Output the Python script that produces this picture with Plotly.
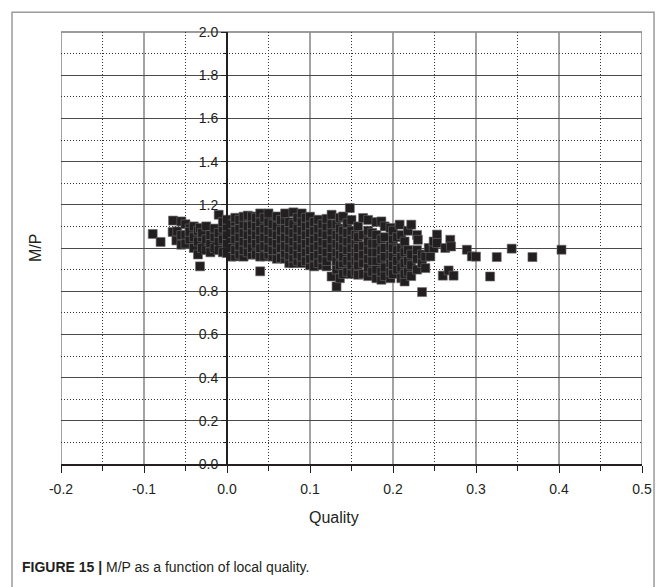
import plotly.graph_objects as go

# ---- data ----
quality = [
    -0.0895, -0.080, -0.065, -0.0655, -0.061, -0.060, -0.055, -0.055, -0.055,
    -0.050, -0.050, -0.050, -0.045, -0.045, -0.045,
    -0.040, -0.040, -0.040, -0.035, -0.035, -0.035,
    -0.0325, -0.0325, -0.030, -0.030, -0.030,
    -0.025, -0.025, -0.025, -0.020, -0.020, -0.020,
    -0.015, -0.015, -0.015, -0.010, -0.010, -0.010, -0.010,
    -0.005, -0.005, -0.005, -0.005,
    0.000, 0.000, 0.000, 0.000, 0.000,
    0.005, 0.005, 0.005, 0.005, 0.005,
    0.010, 0.010, 0.010, 0.010, 0.010, 0.010,
    0.015, 0.015, 0.015, 0.015, 0.015,
    0.020, 0.020, 0.020, 0.020, 0.020, 0.020,
    0.025, 0.025, 0.025, 0.025, 0.025,
    0.030, 0.030, 0.030, 0.030, 0.030, 0.030,
    0.035, 0.035, 0.035, 0.035, 0.035,
    0.040, 0.040, 0.040, 0.040, 0.040, 0.040, 0.040,
    0.045, 0.045, 0.045, 0.045, 0.045,
    0.050, 0.050, 0.050, 0.050, 0.050, 0.050,
    0.055, 0.055, 0.055, 0.055, 0.055,
    0.060, 0.060, 0.060, 0.060, 0.060, 0.060,
    0.065, 0.065, 0.065, 0.065, 0.065,
    0.070, 0.070, 0.070, 0.070, 0.070, 0.070, 0.070,
    0.075, 0.075, 0.075, 0.075, 0.075, 0.075,
    0.080, 0.080, 0.080, 0.080, 0.080, 0.080, 0.080,
    0.085, 0.085, 0.085, 0.085, 0.085, 0.085,
    0.090, 0.090, 0.090, 0.090, 0.090, 0.090, 0.090,
    0.095, 0.095, 0.095, 0.095, 0.095, 0.095,
    0.100, 0.100, 0.100, 0.100, 0.100, 0.100, 0.100,
    0.105, 0.105, 0.105, 0.105, 0.105, 0.105,
    0.110, 0.110, 0.110, 0.110, 0.110, 0.110,
    0.115, 0.115, 0.115, 0.115, 0.115, 0.115,
    0.120, 0.120, 0.120, 0.120, 0.120, 0.120, 0.120,
    0.126, 0.126, 0.126, 0.126, 0.126, 0.126, 0.126,
    0.132, 0.132, 0.132, 0.132, 0.132, 0.132, 0.132,
    0.136, 0.136, 0.136, 0.136, 0.136, 0.136, 0.136,
    0.140, 0.140, 0.140, 0.140, 0.140, 0.140, 0.140,
    0.145, 0.145, 0.145, 0.145, 0.145, 0.145,
    0.148,
    0.150, 0.150, 0.150, 0.150, 0.150, 0.150, 0.150,
    0.155, 0.155, 0.155, 0.155, 0.155,
    0.158, 0.158, 0.158, 0.158, 0.158, 0.158,
    0.164, 0.164, 0.164, 0.164, 0.164, 0.164,
    0.170, 0.170, 0.170, 0.170, 0.170, 0.170, 0.170,
    0.175, 0.175, 0.175, 0.175, 0.175,
    0.180, 0.180, 0.180, 0.180, 0.180, 0.180, 0.180,
    0.186, 0.186, 0.186, 0.186, 0.186, 0.186,
    0.190, 0.190, 0.190, 0.190, 0.190, 0.190,
    0.197, 0.197, 0.197, 0.197, 0.197, 0.197,
    0.200, 0.200, 0.200, 0.200, 0.200, 0.200,
    0.205, 0.205, 0.205, 0.205,
    0.208,
    0.210, 0.210, 0.210, 0.210, 0.210,
    0.214, 0.214, 0.214, 0.214, 0.214,
    0.218, 0.218, 0.218, 0.218,
    0.222, 0.222, 0.222, 0.222,
    0.229, 0.229, 0.229, 0.229,
    0.230,
    0.235, 0.235, 0.235,
    0.239, 0.239, 0.245, 0.243, 0.249, 0.249,
    0.253, 0.253, 0.260, 0.263, 0.267, 0.269, 0.270, 0.273,
    0.289, 0.295, 0.300, 0.317, 0.325, 0.343, 0.368, 0.403,
]

mp_ratio = [
    1.065, 1.028, 1.127, 1.074, 1.035, 1.077, 1.123, 1.015, 1.060,
    1.110, 1.060, 1.020, 1.090, 1.040, 1.075,
    1.100, 1.050, 1.000, 0.970, 1.030, 1.080,
    0.915, 1.093, 1.050, 1.000, 1.070,
    0.990, 1.040, 1.100, 1.020, 1.060, 0.980,
    1.050, 1.090, 1.000, 1.154, 1.030, 1.070, 0.990,
    0.980, 1.040, 1.090, 1.120,
    0.977, 1.020, 1.060, 1.100, 1.131,
    0.960, 1.030, 1.070, 1.110, 1.000,
    0.961, 0.990, 1.040, 1.080, 1.123, 1.140,
    0.970, 1.010, 1.050, 1.090, 1.130,
    0.960, 0.990, 1.030, 1.070, 1.110, 1.145,
    0.980, 1.020, 1.060, 1.100, 1.150,
    0.969, 1.000, 1.040, 1.080, 1.110, 1.146,
    0.970, 1.020, 1.060, 1.100, 1.140,
    0.892, 0.960, 1.000, 1.040, 1.080, 1.120, 1.160,
    0.961, 1.010, 1.050, 1.090, 1.140,
    0.970, 1.000, 1.040, 1.080, 1.120, 1.160,
    0.960, 0.990, 1.030, 1.070, 1.110,
    0.950, 0.990, 1.020, 1.060, 1.100, 1.146,
    0.954, 1.000, 1.040, 1.080, 1.130,
    0.950, 0.975, 1.010, 1.050, 1.090, 1.130, 1.160,
    0.930, 0.965, 1.000, 1.040, 1.080, 1.120,
    0.930, 0.955, 0.990, 1.030, 1.070, 1.110, 1.165,
    0.940, 0.970, 1.010, 1.050, 1.090, 1.140,
    0.930, 0.960, 1.000, 1.040, 1.080, 1.120, 1.160,
    0.940, 0.980, 1.020, 1.060, 1.100, 1.140,
    0.920, 0.950, 0.990, 1.030, 1.070, 1.110, 1.145,
    0.915, 0.960, 1.000, 1.040, 1.080, 1.120,
    0.930, 0.970, 1.010, 1.050, 1.090, 1.131,
    0.920, 0.950, 0.990, 1.030, 1.070, 1.110,
    0.915, 0.940, 0.980, 1.020, 1.060, 1.100, 1.135,
    0.868, 0.960, 1.000, 1.040, 1.080, 1.110, 1.154,
    0.822, 0.900, 0.940, 0.980, 1.020, 1.060, 1.110,
    0.860, 0.920, 0.970, 1.010, 1.050, 1.090, 1.140,
    0.880, 0.930, 0.960, 1.000, 1.040, 1.080, 1.146,
    0.890, 0.940, 0.990, 1.030, 1.070, 1.115,
    1.185,
    0.880, 0.920, 0.960, 1.000, 1.040, 1.080, 1.130,
    0.890, 0.940, 0.980, 1.020, 1.060,
    0.876, 0.920, 0.960, 1.000, 1.050, 1.100,
    0.880, 0.930, 0.970, 1.010, 1.060, 1.139,
    0.870, 0.910, 0.950, 0.990, 1.030, 1.080, 1.130,
    0.890, 0.940, 0.980, 1.020, 1.070,
    0.860, 0.900, 0.940, 0.980, 1.020, 1.060, 1.120,
    0.853, 0.890, 0.950, 0.990, 1.040, 1.123,
    0.870, 0.910, 0.960, 1.000, 1.050, 1.100,
    0.860, 0.890, 0.930, 0.970, 1.010, 1.093,
    0.880, 0.920, 0.960, 1.000, 1.040, 1.080,
    0.900, 0.940, 0.990, 1.050,
    1.108,
    0.860, 0.910, 0.960, 1.000, 1.060,
    0.845, 0.880, 0.930, 0.980, 1.030,
    0.890, 0.940, 0.990, 1.080,
    0.870, 0.920, 0.970, 1.108,
    0.900, 0.950, 0.990, 1.060,
    1.038,
    0.796, 0.930, 0.970,
    0.907, 0.960, 0.961, 1.000, 1.000, 1.030,
    1.062, 1.023, 0.872, 1.000, 0.896, 1.038, 1.007, 0.872,
    0.992, 0.961, 0.960, 0.868, 0.958, 0.997, 0.958, 0.992,
]

x_ticks = [-0.2, -0.1, 0.0, 0.1, 0.2, 0.3, 0.4, 0.5]
x_tick_labels = ["-0.2", "-0.1", "0.0", "0.1", "0.2", "0.3", "0.4", "0.5"]
y_ticks = [0.0, 0.2, 0.4, 0.6, 0.8, 1.0, 1.2, 1.4, 1.6, 1.8, 2.0]
y_tick_labels = ["0.0", "0.2", "0.4", "0.6", "0.8", "1.0", "1.2", "1.4", "1.6", "1.8", "2.0"]

# minor ticks sit midway between the labelled ticks
x_minor = [(a + b) / 2 for a, b in zip(x_ticks[:-1], x_ticks[1:])]
y_minor = [(a + b) / 2 for a, b in zip(y_ticks[:-1], y_ticks[1:])]

FONT = "Liberation Sans, Arial, sans-serif"
FINE_DOT = "1px,2px"

fig = go.Figure()
fig.add_trace(go.Scatter(
    x=quality, y=mp_ratio, mode="markers",
    marker=dict(symbol="square", size=9, color="#231f20",
                line=dict(width=0.6, color="#6a6a6a")),
    showlegend=False, hoverinfo="x+y",
))

# solid grey vertical grid at the labelled x ticks (between grid and data)
vgrid = [dict(type="line", xref="x", yref="paper", x0=v, x1=v, y0=0, y1=1,
              line=dict(color="#8c8c8c", width=1.6), layer="between")
         for v in x_ticks]

fig.update_layout(
    width=663, height=587,
    margin=dict(l=61, r=21, t=32, b=123),
    paper_bgcolor="white", plot_bgcolor="white",
    font=dict(family=FONT, size=13, color="#231f20"),
    xaxis=dict(
        range=[-0.2, 0.5], tickmode="array", tickvals=x_ticks, ticktext=x_tick_labels,
        ticks="outside", ticklen=7, tickwidth=1.2, tickcolor="#231f20",
        showline=True, linecolor="#231f20", linewidth=2,
        showgrid=False,
        zeroline=False,
        minor=dict(tickmode="array", tickvals=x_minor, ticks="outside", ticklen=5,
                   tickcolor="#231f20", showgrid=True, gridcolor="#333333",
                   griddash=FINE_DOT, gridwidth=1),
        tickfont=dict(size=14, family=FONT),
        ticklabelstandoff=4,
    ),
    yaxis=dict(
        range=[0, 2.0], tickmode="array", tickvals=y_ticks, ticktext=y_tick_labels,
        anchor="free", position=2 / 7,
        ticks="outside", ticklen=5, tickwidth=1.2, tickcolor="#231f20",
        showline=True, linecolor="#231f20", linewidth=2,
        showgrid=True, gridcolor="#4a4a4a", gridwidth=1,
        zeroline=False,
        minor=dict(tickmode="array", tickvals=y_minor, ticks="outside", ticklen=3,
                   tickcolor="#231f20", showgrid=True, gridcolor="#333333",
                   griddash=FINE_DOT, gridwidth=1),
        tickfont=dict(size=14, family=FONT),
    ),
    shapes=[
        dict(type="rect", xref="paper", yref="paper",
             x0=-0.0843, x1=1.0207, y0=-0.32, y1=1.046,
             line=dict(color="#9a9a9a", width=1.5), layer="below"),
        dict(type="line", xref="paper", yref="paper",
             x0=0, x1=1, y0=1, y1=1,
             line=dict(color="#3a3a3a", width=1.2), layer="between"),
    ] + vgrid,
    annotations=[
        dict(text="M/P", xref="paper", yref="paper", x=-0.0448, y=0.5,
             textangle=-90, showarrow=False, xanchor="center", yanchor="middle",
             font=dict(size=16, family=FONT)),
        dict(text="Quality", xref="paper", yref="paper", x=0.47, y=-0.1227,
             showarrow=False, xanchor="center", yanchor="middle",
             font=dict(size=16, family=FONT)),
        dict(text="<b>FIGURE 15 |</b> M/P as a function of local quality.",
             xref="paper", yref="paper", x=-0.0706, y=-0.238,
             showarrow=False, xanchor="left", yanchor="middle",
             font=dict(size=14, family="Liberation Sans Narrow, Arial Narrow, sans-serif")),
    ],
)

fig.write_html("out.html")
